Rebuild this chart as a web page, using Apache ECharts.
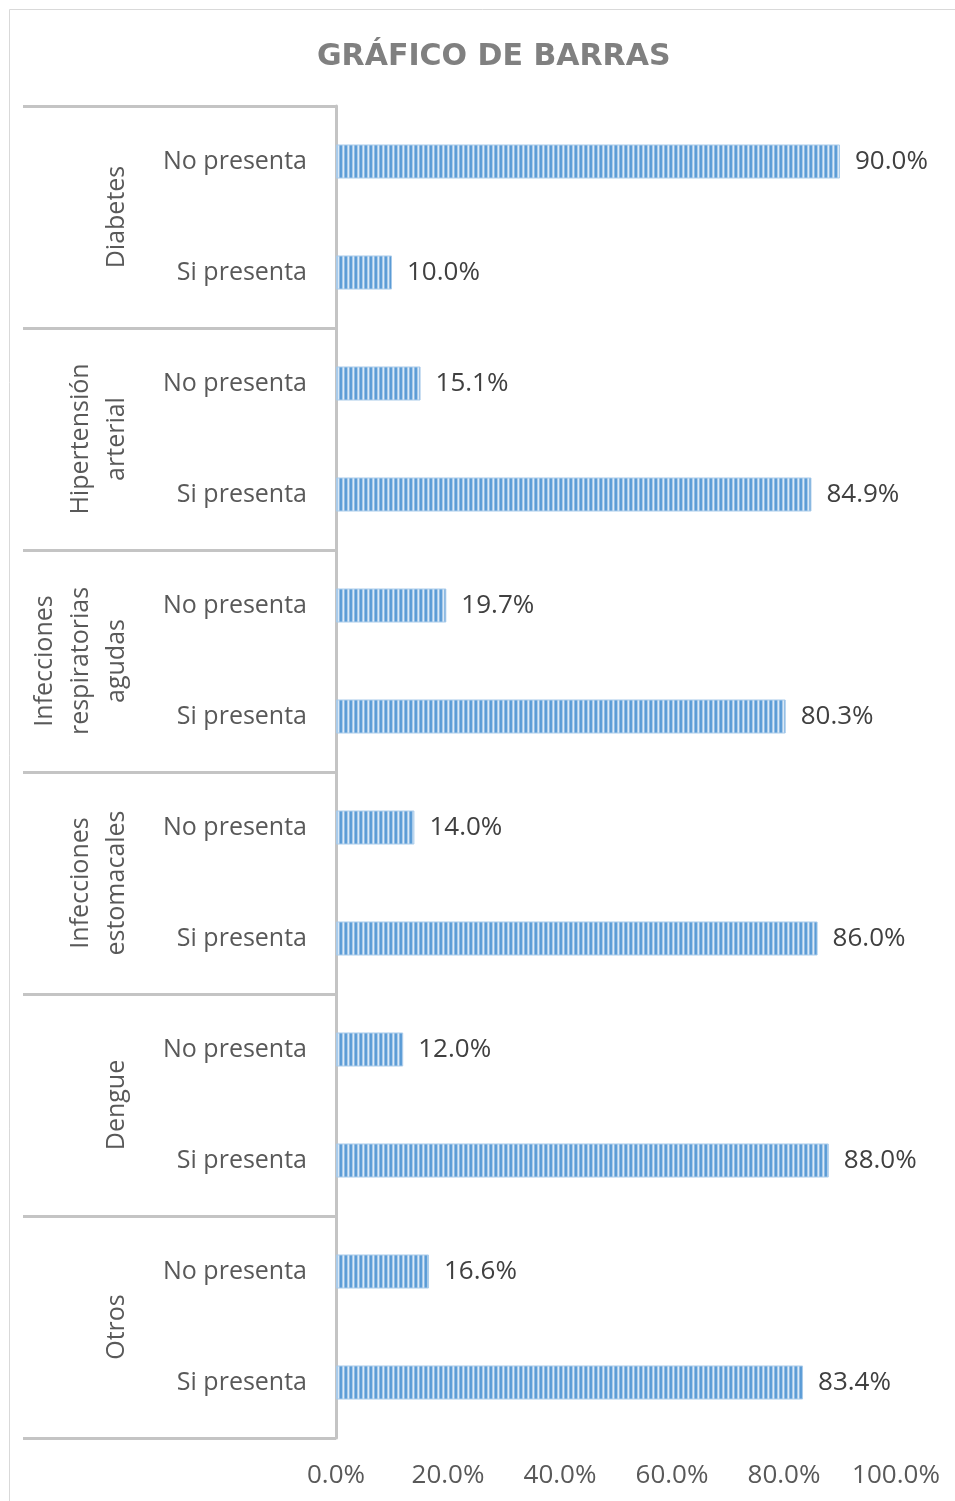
<!DOCTYPE html>
<html>
<head>
<meta charset="utf-8">
<script src="https://cdn.jsdelivr.net/npm/echarts@6/dist/echarts.min.js"></script>
<style>
html,body{margin:0;padding:0;background:#fff;}
#chart{width:955px;height:1501px;}
</style>
</head>
<body>
<div id="chart"></div>
<script>
var titleText = 'GRÁFICO DE BARRAS';
var groups = ['Diabetes', 'Hipertensión\narterial', 'Infecciones\nrespiratorias\nagudas', 'Infecciones\nestomacales', 'Dengue', 'Otros'];
var subCategories = ['No presenta', 'Si presenta', 'No presenta', 'Si presenta', 'No presenta', 'Si presenta',
                     'No presenta', 'Si presenta', 'No presenta', 'Si presenta', 'No presenta', 'Si presenta'];
var values = [90.0, 10.0, 15.1, 84.9, 19.7, 80.3, 14.0, 86.0, 12.0, 88.0, 16.6, 83.4];
var xTicks = [0, 20, 40, 60, 80, 100];

// stripe pattern for bars
var pc = document.createElement('canvas');
pc.width = 5; pc.height = 4;
var ctx = pc.getContext('2d');
var stripeCols = ['#5b9bd5', '#5f9fd8', '#a9cbea', '#dbe9f6', '#8fbbe3'];
for (var i = 0; i < stripeCols.length; i++) {
  ctx.fillStyle = stripeCols[i];
  ctx.fillRect(i, 0, 1, 4);
}

var font = '"Open Sans", "Noto Sans", sans-serif';
var chart = echarts.init(document.getElementById('chart'));
chart.setOption({
  animation: false,
  backgroundColor: '#ffffff',
  title: {
    text: titleText,
    left: 312,
    top: 37,
    textStyle: { fontFamily: '"DejaVu Sans", "Open Sans", sans-serif', fontSize: 30, fontWeight: 'bold', color: '#808080' }
  },
  graphic: [{
    type: 'rect',
    shape: { x: 9.5, y: 9.5, width: 1000, height: 1600 },
    style: { fill: 'none', stroke: '#d9d9d9', lineWidth: 1 },
    silent: true
  }],
  grid: { left: 336, right: 59, top: 106, bottom: 63 },
  xAxis: {
    type: 'value',
    min: xTicks[0],
    max: xTicks[xTicks.length - 1],
    interval: 20,
    axisLine: { show: false },
    axisTick: { show: false },
    splitLine: { show: false },
    axisLabel: {
      margin: 25,
      fontFamily: font, fontSize: 26, color: '#595959',
      formatter: function (v) { return v.toFixed(1) + '%'; }
    }
  },
  yAxis: [{
    type: 'category',
    inverse: true,
    position: 'left',
    data: subCategories,
    axisLine: { show: true, onZero: false, lineStyle: { color: '#c4c4c4', width: 3 } },
    axisTick: { show: false },
    axisLabel: { margin: 29, fontFamily: font, fontSize: 25, color: '#595959', interval: 0 }
  }, {
    type: 'category',
    inverse: true,
    position: 'left',
    data: groups,
    axisLine: { show: false, onZero: false },
    axisTick: { show: true, length: 313, interval: 0, lineStyle: { color: '#c4c4c4', width: 3 } },
    axisLabel: { rotate: 90, margin: 201, interval: 0, fontFamily: font, fontSize: 25, lineHeight: 36, color: '#595959' }
  }],
  series: [{
    type: 'bar',
    yAxisIndex: 0,
    data: values,
    barWidth: 34,
    itemStyle: { color: { image: pc, repeat: 'repeat' }, borderColor: '#a9cbea', borderWidth: 1 },
    label: {
      show: true, position: 'right', distance: 15,
      fontFamily: font, fontSize: 26, color: '#404040',
      formatter: function (p) { return p.value.toFixed(1) + '%'; }
    }
  }]
});
</script>
</body>
</html>
